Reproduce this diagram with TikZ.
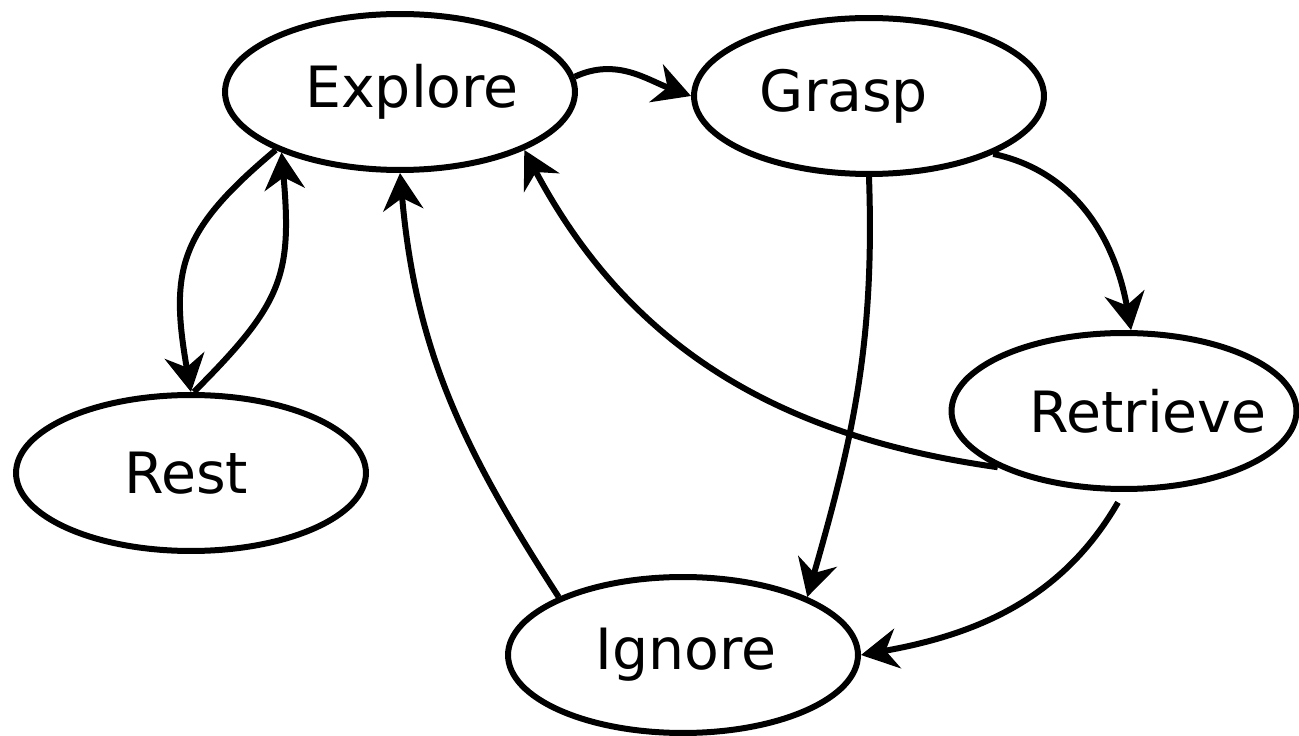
\documentclass[tikz,border=0pt]{standalone}
\usepackage{fontspec}
\setmainfont{DejaVu Sans}
\usetikzlibrary{shapes.geometric,arrows.meta}

\begin{document}
\begin{tikzpicture}[x=0.02cm,y=0.02cm,line width=0.12cm,
  state/.style={draw,ellipse,minimum width=7cm,minimum height=3.12cm,inner sep=0pt},
  lbl/.style={font=\fontsize{32.4}{39}\selectfont},
  >={Stealth[length=0.74cm,width=0.8cm,inset=0.24cm]}]
\useasboundingbox (0,0) rectangle (1299,-736);

\node [state,label={[lbl,xshift= 0.24cm]center:Explore}]  (explore)  at ( 400, -92) {};
\node [state,label={[lbl,xshift=-0.50cm]center:Grasp}]    (grasp)    at ( 869, -96) {};
\node [state,label={[lbl,xshift=-0.10cm]center:Rest}]     (rest)     at ( 191,-473) {};
\node [state,minimum width=6.9cm,
       label={[lbl,xshift= 0.48cm]center:Retrieve}]       (retrieve) at (1124,-411) {};
\node [state,label={[lbl,xshift= 0.06cm]center:Ignore}]   (ignore)   at ( 683,-655) {};

\draw [->] (explore.5)   to [out=25,in=160]  (grasp.west);
\draw [->] (grasp.-25)   to [out=-12,in=100] (retrieve.85);
\draw [->] (grasp.south) to [out=-88,in=74]  (ignore.25);
\draw [->] (retrieve.204) to [out=172,in=-62] (explore.-25);
\draw [->,shorten <=0.24cm] (retrieve.south) to [out=-120,in=10] (ignore.east);
\draw [->] (ignore.155)  to [out=123,in=-85] (explore.south);
\draw [->] (explore.205) to [out=-140,in=100,looseness=1.25] (rest.north);
\draw [->] (rest.88)     to [out=45,in=-85,looseness=1.25]  (explore.207);
\end{tikzpicture}
\end{document}
